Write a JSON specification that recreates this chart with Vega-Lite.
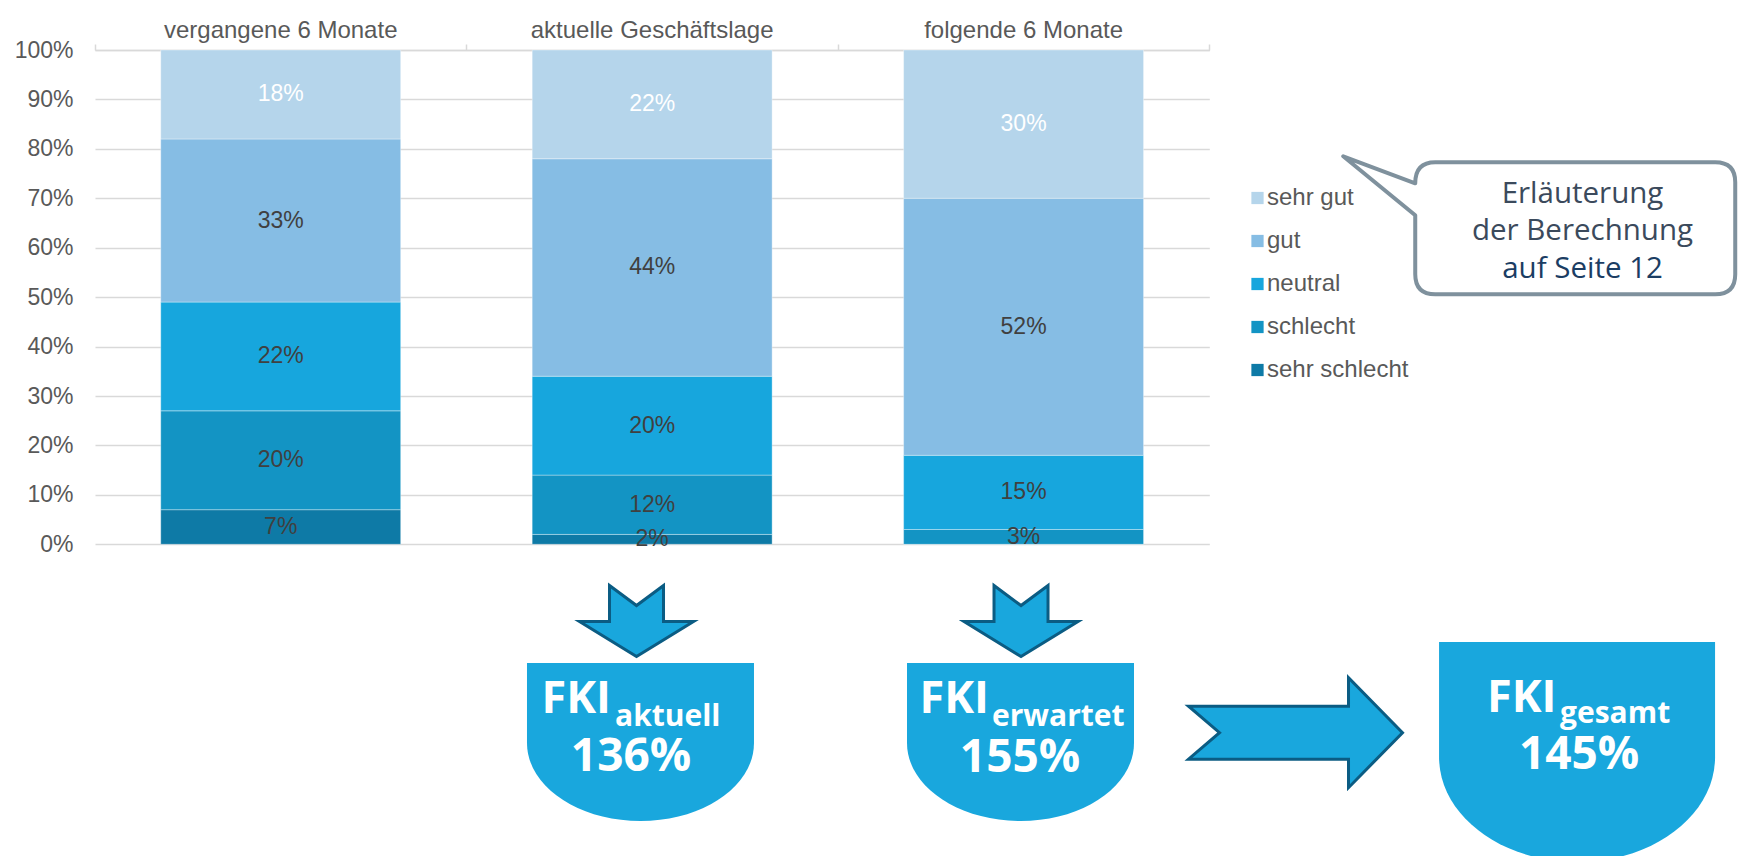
{
  "$schema": "https://vega.github.io/schema/vega-lite/v6.json",
  "width": 1114.3,
  "height": 494.3,
  "autosize": {"type": "none"},
  "padding": {"left": 95, "top": 50, "right": 529.7, "bottom": 311.7},
  "background": "white",
  "config": {"view": {"stroke": null}, "font": "Liberation Sans"},
  "datasets": {
    "umfrage": [
      {"zeitraum": "vergangene 6 Monate", "bewertung": "sehr schlecht", "stufe": 1, "anteil": 0.07},
      {"zeitraum": "vergangene 6 Monate", "bewertung": "schlecht", "stufe": 2, "anteil": 0.20},
      {"zeitraum": "vergangene 6 Monate", "bewertung": "neutral", "stufe": 3, "anteil": 0.22},
      {"zeitraum": "vergangene 6 Monate", "bewertung": "gut", "stufe": 4, "anteil": 0.33},
      {"zeitraum": "vergangene 6 Monate", "bewertung": "sehr gut", "stufe": 5, "anteil": 0.18},
      {"zeitraum": "aktuelle Geschäftslage", "bewertung": "sehr schlecht", "stufe": 1, "anteil": 0.02},
      {"zeitraum": "aktuelle Geschäftslage", "bewertung": "schlecht", "stufe": 2, "anteil": 0.12},
      {"zeitraum": "aktuelle Geschäftslage", "bewertung": "neutral", "stufe": 3, "anteil": 0.20},
      {"zeitraum": "aktuelle Geschäftslage", "bewertung": "gut", "stufe": 4, "anteil": 0.44},
      {"zeitraum": "aktuelle Geschäftslage", "bewertung": "sehr gut", "stufe": 5, "anteil": 0.22},
      {"zeitraum": "folgende 6 Monate", "bewertung": "sehr schlecht", "stufe": 1, "anteil": 0.0},
      {"zeitraum": "folgende 6 Monate", "bewertung": "schlecht", "stufe": 2, "anteil": 0.03},
      {"zeitraum": "folgende 6 Monate", "bewertung": "neutral", "stufe": 3, "anteil": 0.15},
      {"zeitraum": "folgende 6 Monate", "bewertung": "gut", "stufe": 4, "anteil": 0.52},
      {"zeitraum": "folgende 6 Monate", "bewertung": "sehr gut", "stufe": 5, "anteil": 0.30}
    ],
    "fki": [
      {"kennzahl": "aktuell", "wert": 1.36},
      {"kennzahl": "erwartet", "wert": 1.55},
      {"kennzahl": "gesamt", "wert": 1.45}
    ]
  },
  "layer": [
    {
      "data": {"name": "umfrage"},
      "layer": [
        {
          "mark": {"type": "bar", "stroke": "#ffffff", "strokeOpacity": 0.35, "strokeWidth": 1},
          "encoding": {
            "x": {
              "field": "zeitraum", "type": "nominal",
              "sort": ["vergangene 6 Monate", "aktuelle Geschäftslage", "folgende 6 Monate"],
              "scale": {"paddingInner": 0.354, "paddingOuter": 0.177},
              "axis": {"orient": "top", "title": null, "domainColor": "#d9d9d9", "domainWidth": 1.5, "ticks": false, "tickSize": 6, "labelPadding": 13, "labelBaseline": "alphabetic", "labelFontSize": 24, "labelColor": "#595959", "labelFont": "Liberation Sans", "labelAngle": 0, "grid": false, "labelLimit": 400}
            },
            "y": {
              "field": "anteil", "type": "quantitative", "stack": "zero",
              "scale": {"domain": [0, 1], "nice": false},
              "axis": {"title": null, "values": [0, 0.1, 0.2, 0.3, 0.4, 0.5, 0.6, 0.7, 0.8, 0.9, 1], "format": ".0%", "domain": false, "ticks": false, "tickSize": 0, "labelPadding": 22, "labelFontSize": 23, "labelColor": "#595959", "labelFont": "Liberation Sans", "gridColor": "#d9d9d9", "gridWidth": 1.5}
            },
            "color": {
              "field": "bewertung", "type": "nominal",
              "scale": {"domain": ["sehr gut", "gut", "neutral", "schlecht", "sehr schlecht"], "range": ["#b5d5eb", "#86bde4", "#17a6dd", "#1394c4", "#0e7aa6"]},
              "legend": {"orient": "none", "legendX": 1150.5, "legendY": 136, "title": null, "symbolType": "square", "symbolSize": 150, "symbolStrokeWidth": 0, "labelFontSize": 24, "labelColor": "#595959", "labelFont": "Liberation Sans", "rowPadding": 19, "labelOffset": -2.5, "padding": 0, "labelLimit": 300}
            },
            "order": {"field": "stufe", "type": "quantitative", "sort": "ascending"}
          }
        },
        {
          "transform": [{"filter": "datum.anteil > 0"}],
          "mark": {"type": "text", "fontSize": 23, "font": "Liberation Sans", "baseline": "middle"},
          "encoding": {
            "x": {"field": "zeitraum", "type": "nominal", "sort": ["vergangene 6 Monate", "aktuelle Geschäftslage", "folgende 6 Monate"]},
            "y": {"field": "anteil", "type": "quantitative", "stack": "zero", "bandPosition": 0.5},
            "detail": {"field": "bewertung"},
            "order": {"field": "stufe", "type": "quantitative", "sort": "ascending"},
            "text": {"field": "anteil", "type": "quantitative", "format": ".0%"},
            "color": {"condition": {"test": "datum.bewertung === 'sehr gut'", "value": "#ffffff"}, "value": "#404040"}
          }
        }
      ]
    },
    {
      "data": {"name": "fki"},
      "transform": [{"filter": "datum.kennzahl === 'aktuell'"}],
      "layer": [
        {
          "mark": {"type": "point", "shape": "M -27 0 L 0 20 L 27 0 L 27 36 L 57 36 L 0 71 L -57 36 L -27 36 Z", "size": 4, "filled": true, "fill": "#19a7dd", "stroke": "#0b5c83", "strokeWidth": 3, "opacity": 1},
          "encoding": {
            "x": {"datum": 1.4579, "type": "quantitative", "scale": {"domain": [0, 3], "nice": false, "zero": false}, "axis": null},
            "y": {"datum": -0.0834, "type": "quantitative", "scale": {"domain": [0, 1], "nice": false}, "axis": null}
          }
        },
        {
          "mark": {"type": "point", "shape": "M -113.5 0 L 113.5 0 L 113.5 80 C 113.5 123.1 62.7 158 0 158 C -62.7 158 -113.5 123.1 -113.5 80 Z", "size": 4, "filled": true, "fill": "#19a7dd", "strokeWidth": 0, "opacity": 1},
          "encoding": {
            "x": {"datum": 1.4686, "type": "quantitative", "scale": {"domain": [0, 3], "nice": false, "zero": false}, "axis": null},
            "y": {"datum": -0.2401, "type": "quantitative", "scale": {"domain": [0, 1], "nice": false}, "axis": null}
          }
        },
        {
          "mark": {"type": "text", "text": "FKI", "font": "Open Sans", "fontWeight": "bold", "fontSize": 45, "align": "right", "baseline": "alphabetic", "color": "#ffffff"},
          "encoding": {
            "x": {"datum": 1.3892, "type": "quantitative", "scale": {"domain": [0, 3], "nice": false, "zero": false}, "axis": null},
            "y": {"datum": -0.3413, "type": "quantitative", "scale": {"domain": [0, 1], "nice": false}, "axis": null}
          }
        },
        {
          "mark": {"type": "text", "font": "Open Sans", "fontWeight": "bold", "fontSize": 30, "align": "left", "baseline": "alphabetic", "color": "#ffffff"},
          "encoding": {
            "text": {"field": "kennzahl"},
            "x": {"datum": 1.4000, "type": "quantitative", "scale": {"domain": [0, 3], "nice": false, "zero": false}, "axis": null},
            "y": {"datum": -0.3666, "type": "quantitative", "scale": {"domain": [0, 1], "nice": false}, "axis": null}
          }
        },
        {
          "mark": {"type": "text", "font": "Open Sans", "fontWeight": "bold", "fontSize": 46, "align": "center", "baseline": "alphabetic", "color": "#ffffff"},
          "encoding": {
            "text": {"field": "wert", "type": "quantitative", "format": ".0%"},
            "x": {"datum": 1.4431, "type": "quantitative", "scale": {"domain": [0, 3], "nice": false, "zero": false}, "axis": null},
            "y": {"datum": -0.4586, "type": "quantitative", "scale": {"domain": [0, 1], "nice": false}, "axis": null}
          }
        }
      ]
    },
    {
      "data": {"name": "fki"},
      "transform": [{"filter": "datum.kennzahl === 'erwartet'"}],
      "layer": [
        {
          "mark": {"type": "point", "shape": "M -27 0 L 0 20 L 27 0 L 27 36 L 57 36 L 0 71 L -57 36 L -27 36 Z", "size": 4, "filled": true, "fill": "#19a7dd", "stroke": "#0b5c83", "strokeWidth": 3, "opacity": 1},
          "encoding": {
            "x": {"datum": 2.4931, "type": "quantitative", "scale": {"domain": [0, 3], "nice": false, "zero": false}, "axis": null},
            "y": {"datum": -0.0834, "type": "quantitative", "scale": {"domain": [0, 1], "nice": false}, "axis": null}
          }
        },
        {
          "mark": {"type": "point", "shape": "M -113.5 0 L 113.5 0 L 113.5 80 C 113.5 123.1 62.7 158 0 158 C -62.7 158 -113.5 123.1 -113.5 80 Z", "size": 4, "filled": true, "fill": "#19a7dd", "strokeWidth": 0, "opacity": 1},
          "encoding": {
            "x": {"datum": 2.4917, "type": "quantitative", "scale": {"domain": [0, 3], "nice": false, "zero": false}, "axis": null},
            "y": {"datum": -0.2401, "type": "quantitative", "scale": {"domain": [0, 1], "nice": false}, "axis": null}
          }
        },
        {
          "mark": {"type": "text", "text": "FKI", "font": "Open Sans", "fontWeight": "bold", "fontSize": 45, "align": "right", "baseline": "alphabetic", "color": "#ffffff"},
          "encoding": {
            "x": {"datum": 2.4069, "type": "quantitative", "scale": {"domain": [0, 3], "nice": false, "zero": false}, "axis": null},
            "y": {"datum": -0.3413, "type": "quantitative", "scale": {"domain": [0, 1], "nice": false}, "axis": null}
          }
        },
        {
          "mark": {"type": "text", "font": "Open Sans", "fontWeight": "bold", "fontSize": 30, "align": "left", "baseline": "alphabetic", "color": "#ffffff"},
          "encoding": {
            "text": {"field": "kennzahl"},
            "x": {"datum": 2.4150, "type": "quantitative", "scale": {"domain": [0, 3], "nice": false, "zero": false}, "axis": null},
            "y": {"datum": -0.3666, "type": "quantitative", "scale": {"domain": [0, 1], "nice": false}, "axis": null}
          }
        },
        {
          "mark": {"type": "text", "font": "Open Sans", "fontWeight": "bold", "fontSize": 46, "align": "center", "baseline": "alphabetic", "color": "#ffffff"},
          "encoding": {
            "text": {"field": "wert", "type": "quantitative", "format": ".0%"},
            "x": {"datum": 2.4904, "type": "quantitative", "scale": {"domain": [0, 3], "nice": false, "zero": false}, "axis": null},
            "y": {"datum": -0.4600, "type": "quantitative", "scale": {"domain": [0, 1], "nice": false}, "axis": null}
          }
        }
      ]
    },
    {
      "data": {"name": "fki"},
      "transform": [{"filter": "datum.kennzahl === 'gesamt'"}],
      "layer": [
        {
          "mark": {"type": "point", "shape": "M -107 -26.5 L 53 -26.5 L 53 -55 L 107 0 L 53 55 L 53 26.5 L -107 26.5 L -76 0 Z", "size": 4, "filled": true, "fill": "#19a7dd", "stroke": "#0b5c83", "strokeWidth": 3, "opacity": 1},
          "encoding": {
            "x": {"datum": 3.2321, "type": "quantitative", "scale": {"domain": [0, 3], "nice": false, "zero": false}, "axis": null},
            "y": {"datum": -0.3811, "type": "quantitative", "scale": {"domain": [0, 1], "nice": false}, "axis": null}
          }
        },
        {
          "mark": {"type": "point", "shape": "M -138 0 L 138 0 L 138 115 C 138 173 76.2 220 0 220 C -76.2 220 -138 173 -138 115 Z", "size": 4, "filled": true, "fill": "#19a7dd", "strokeWidth": 0, "opacity": 1},
          "encoding": {
            "x": {"datum": 3.9901, "type": "quantitative", "scale": {"domain": [0, 3], "nice": false, "zero": false}, "axis": null},
            "y": {"datum": -0.1977, "type": "quantitative", "scale": {"domain": [0, 1], "nice": false}, "axis": null}
          }
        },
        {
          "mark": {"type": "text", "text": "FKI", "font": "Open Sans", "fontWeight": "bold", "fontSize": 45, "align": "right", "baseline": "alphabetic", "color": "#ffffff"},
          "encoding": {
            "x": {"datum": 3.9348, "type": "quantitative", "scale": {"domain": [0, 3], "nice": false, "zero": false}, "axis": null},
            "y": {"datum": -0.3387, "type": "quantitative", "scale": {"domain": [0, 1], "nice": false}, "axis": null}
          }
        },
        {
          "mark": {"type": "text", "font": "Open Sans", "fontWeight": "bold", "fontSize": 30, "align": "left", "baseline": "alphabetic", "color": "#ffffff"},
          "encoding": {
            "text": {"field": "kennzahl"},
            "x": {"datum": 3.9442, "type": "quantitative", "scale": {"domain": [0, 3], "nice": false, "zero": false}, "axis": null},
            "y": {"datum": -0.3609, "type": "quantitative", "scale": {"domain": [0, 1], "nice": false}, "axis": null}
          }
        },
        {
          "mark": {"type": "text", "font": "Open Sans", "fontWeight": "bold", "fontSize": 46, "align": "center", "baseline": "alphabetic", "color": "#ffffff"},
          "encoding": {
            "text": {"field": "wert", "type": "quantitative", "format": ".0%"},
            "x": {"datum": 3.9956, "type": "quantitative", "scale": {"domain": [0, 3], "nice": false, "zero": false}, "axis": null},
            "y": {"datum": -0.4552, "type": "quantitative", "scale": {"domain": [0, 1], "nice": false}, "axis": null}
          }
        }
      ]
    },
    {
      "data": {"values": [{"seite": 12}]},
      "mark": {"type": "point", "shape": "M -140 -66 L 140 -66 Q 160 -66 160 -46 L 160 46 Q 160 66 140 66 L -140 66 Q -160 66 -160 46 L -160 -13 L -232 -72 L -160 -45 Q -160 -66 -140 -66 Z", "size": 4, "filled": true, "fill": "#ffffff", "stroke": "#7f919d", "strokeWidth": 4, "strokeJoin": "round", "opacity": 1},
      "encoding": {
        "x": {"datum": 3.9852, "type": "quantitative", "scale": {"domain": [0, 3], "nice": false, "zero": false}, "axis": {"orient": "top", "values": [0, 1, 2, 3], "labels": false, "domain": false, "ticks": true, "tickSize": 6, "tickColor": "#d9d9d9", "tickWidth": 1.5, "grid": false, "title": null}},
        "y": {"datum": 0.6393, "type": "quantitative", "scale": {"domain": [0, 1], "nice": false}, "axis": null}
      }
    },
    {
      "data": {"values": [{"seite": 12}]},
      "mark": {"type": "text", "text": ["Erläuterung", "der Berechnung"], "lineHeight": 37.5, "font": "Open Sans", "fontSize": 29.5, "align": "center", "baseline": "alphabetic", "color": "#3b4a5c"},
      "encoding": {
        "x": {"datum": 4.0048, "type": "quantitative", "scale": {"domain": [0, 3], "nice": false, "zero": false}, "axis": null},
        "y": {"datum": 0.6911, "type": "quantitative", "scale": {"domain": [0, 1], "nice": false}, "axis": null}
      }
    },
    {
      "data": {"values": [{"seite": 12}]},
      "mark": {"type": "text", "text": "auf Seite 12", "font": "Open Sans", "fontSize": 29.5, "align": "center", "baseline": "alphabetic", "color": "#1b3d63"},
      "encoding": {
        "x": {"datum": 4.0048, "type": "quantitative", "scale": {"domain": [0, 3], "nice": false, "zero": false}, "axis": null},
        "y": {"datum": 0.5387, "type": "quantitative", "scale": {"domain": [0, 1], "nice": false}, "axis": null}
      }
    }
  ],
  "resolve": {"scale": {"x": "independent", "y": "independent"}}
}
